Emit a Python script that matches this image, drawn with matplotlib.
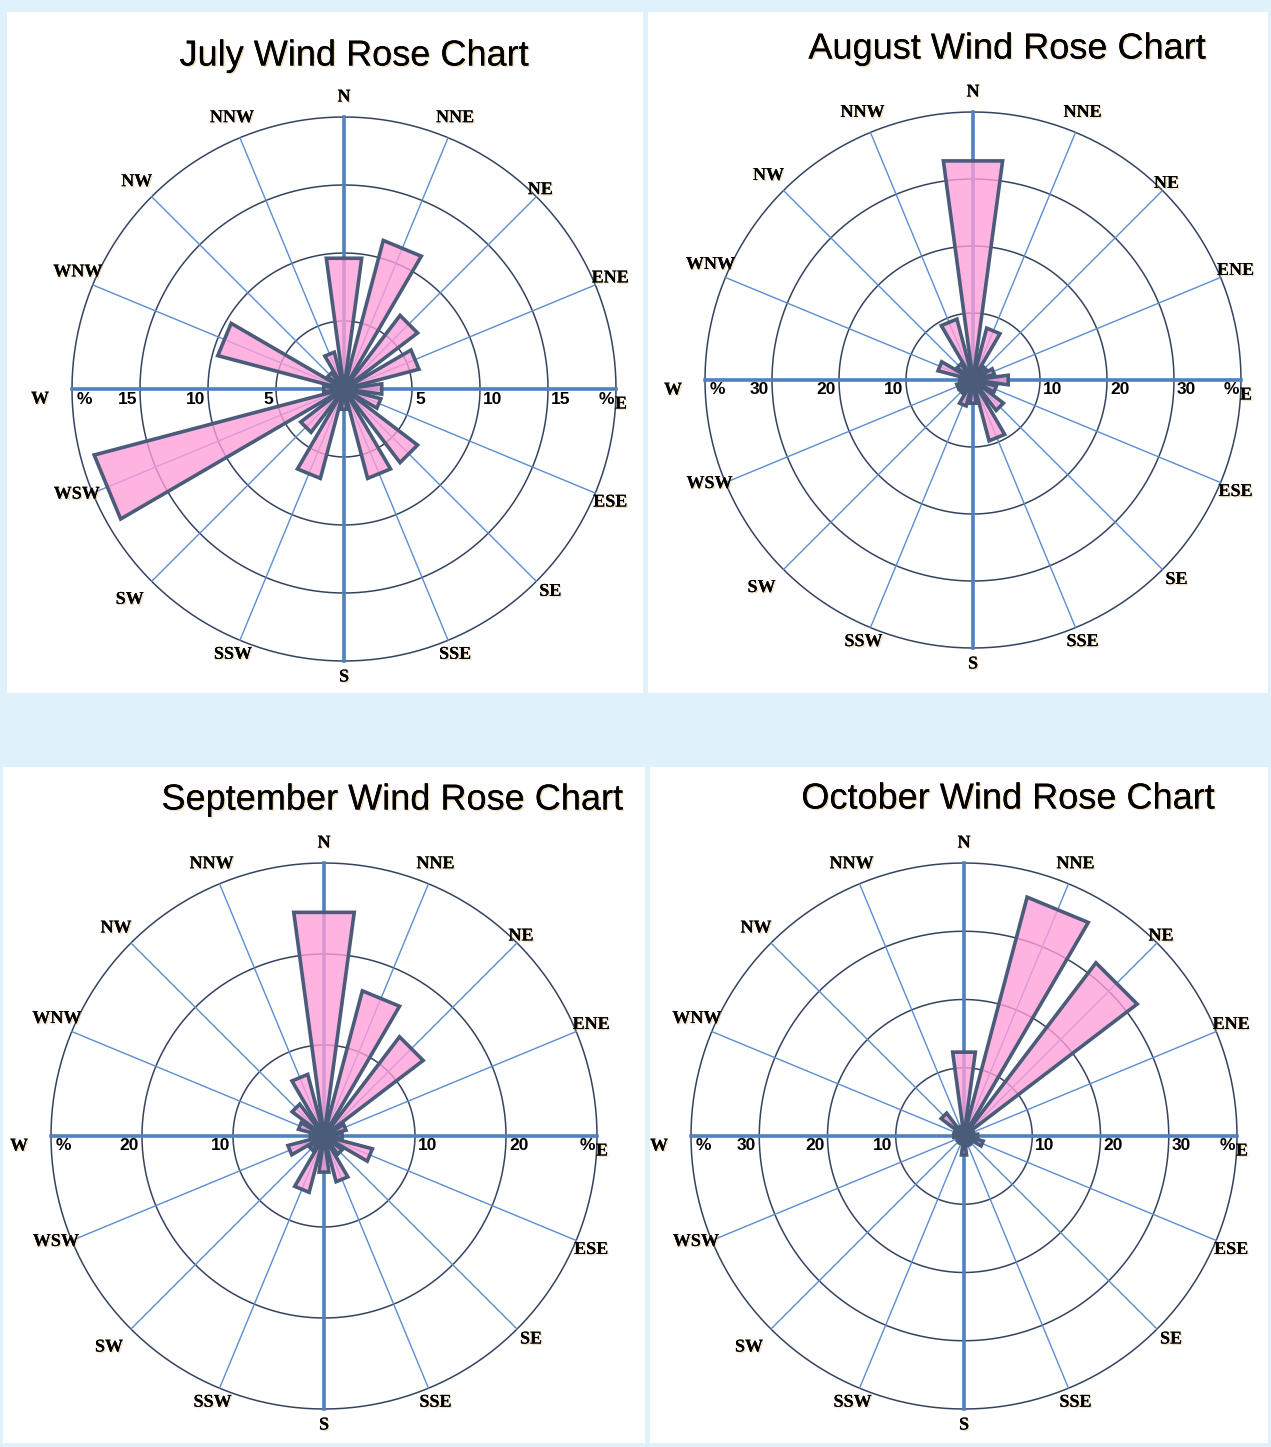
import numpy as np
import matplotlib
matplotlib.use('Agg')
import matplotlib.pyplot as plt
from matplotlib.patches import Rectangle
import matplotlib.patheffects as pe

# data (percent of time per direction)
directions = ['N', 'NNE', 'NE', 'ENE', 'E', 'ESE', 'SE', 'SSE',
              'S', 'SSW', 'SW', 'WSW', 'W', 'WNW', 'NW', 'NNW']
july = [9.7, 11.3, 6.8, 5.7, 2.8, 2.8, 6.8, 6.8, 1.5, 6.8, 4.0, 19.0, 1.5, 9.6, 1.5, 2.8]
august = [33.0, 8.0, 2.5, 3.3, 5.3, 3.6, 5.7, 9.4, 3.5, 4.0, 2.5, 2.5, 2.0, 5.4, 3.0, 9.4]
september = [24.8, 16.5, 13.7, 2.5, 2.0, 5.5, 2.5, 5.2, 4.0, 6.4, 2.0, 4.1, 1.5, 2.9, 4.4, 7.0]
october = [12.4, 36.2, 31.9, 1.5, 2.0, 2.9, 1.5, 1.5, 2.8, 1.2, 1.2, 1.0, 1.5, 1.5, 4.2, 1.5]
titles = ['July Wind Rose Chart', 'August Wind Rose Chart',
          'September Wind Rose Chart', 'October Wind Rose Chart']
ring_ticks = [[5, 10, 15], [10, 20, 30], [10, 20], [10, 20, 30]]
rmax = [20, 40, 30, 40]

W, H = 1271, 1447
fig = plt.figure(figsize=(W / 100, H / 100), dpi=100, facecolor='#dff1fb')

# white panels (x0, y0, x1, y1) in pixels from top-left
panels = [(7, 12, 643, 693), (648, 12, 1268, 693), (3, 767, 645, 1443), (650, 767, 1268, 1443)]
for x0, y0, x1, y1 in panels:
    fig.add_artist(Rectangle((x0 / W, 1 - y1 / H), (x1 - x0) / W, (y1 - y0) / H,
                             transform=fig.transFigure, fc='white', ec='none', zorder=0))

centers = [(344, 389, 272), (973, 380, 268), (324, 1136, 273), (964, 1136, 273)]
title_pos = [(354, 56), (1007, 49), (392, 800), (1008, 799)]

# label offsets in pixels (dx right, dy down) from the outer ring end of each spoke
lab_off = [(0, -20), (7, -20), (4, -7), (15, -7), (0, 0), (15, 9), (14, 10), (7, 14),
           (0, 16), (-7, 14), (-22, 18), (-16, 1), (-32, 10), (-15, -13), (-15, -15), (-8, -20)]

theta = np.deg2rad(np.arange(16) * 22.5)
half = np.deg2rad(7.7)
shadow = [pe.withSimplePatchShadow(offset=(1, -1), shadow_rgbFace='#d9a040', alpha=0.35), pe.Normal()]

for k, vals in enumerate([july, august, september, october]):
    cx, cy, R = centers[k]
    ax = fig.add_axes([(cx - R) / W, (H - cy - R) / H, 2 * R / W, 2 * R / H], projection='polar')
    ax.set_theta_zero_location('N')
    ax.set_theta_direction(-1)
    ax.set_ylim(0, rmax[k])
    ax.set_xticks([])
    ax.set_yticks([])
    ax.grid(False)
    ax.spines['polar'].set_visible(False)
    ax.patch.set_alpha(0)

    m = rmax[k]
    circ = np.linspace(0, 2 * np.pi, 361)
    for r in ring_ticks[k] + [m]:
        ax.plot(circ, [r] * len(circ), color='#34445f', lw=1.1, zorder=1, clip_on=False)
    for i, t in enumerate(theta):
        if i % 4 == 0:
            ax.plot([t, t], [0, m], color='#4f81bd', lw=2.6, zorder=1, clip_on=False)
        else:
            ax.plot([t, t], [0, m], color='#5b8dd0', lw=1.0, zorder=1, clip_on=False)

    for t, v in zip(theta, vals):
        ax.fill([0, t - half, t + half], [0, v, v], facecolor=(1.0, 0.62, 0.85, 0.78),
                edgecolor='#4b5b7a', lw=2.6, joinstyle='miter', zorder=2)

    # direction labels
    for i, (t, d) in enumerate(zip(theta, directions)):
        dx, dy = lab_off[i]
        if d == 'E':
            ax.annotate('E', xy=(t, m), xytext=(-1, -15), textcoords='offset pixels',
                        ha='left', va='center', fontsize=13, fontweight='bold',
                        family='Liberation Serif', annotation_clip=False, path_effects=shadow)
            continue
        ax.annotate(d, xy=(t, m), xytext=(dx, -dy), textcoords='offset pixels',
                    ha='center', va='center', fontsize=13, fontweight='bold',
                    family='Liberation Serif', annotation_clip=False, path_effects=shadow)

    # radial labels along the E-W axis
    east, west = np.pi / 2, 3 * np.pi / 2
    for r in ring_ticks[k]:
        ax.annotate(str(r), xy=(east, r), xytext=(3, -10), textcoords='offset pixels',
                    ha='left', va='center', fontsize=12.5, fontweight='bold',
                    family='Liberation Sans', annotation_clip=False)
        ax.annotate(str(r), xy=(west, r), xytext=(-3, -10), textcoords='offset pixels',
                    ha='right', va='center', fontsize=12.5, fontweight='bold',
                    family='Liberation Sans', annotation_clip=False)
    ax.annotate('%', xy=(east, m), xytext=(-2, -10), textcoords='offset pixels',
                ha='right', va='center', fontsize=12.5, fontweight='bold',
                family='Liberation Sans', annotation_clip=False)
    ax.annotate('%', xy=(west, m), xytext=(5, -10), textcoords='offset pixels',
                ha='left', va='center', fontsize=12.5, fontweight='bold',
                family='Liberation Sans', annotation_clip=False)

    tx, ty = title_pos[k]
    fig.text(tx / W, 1 - ty / H, titles[k], ha='center', va='center', fontsize=26,
             family='Liberation Sans', path_effects=shadow)

fig.savefig('out.png', dpi=100, facecolor=fig.get_facecolor())
